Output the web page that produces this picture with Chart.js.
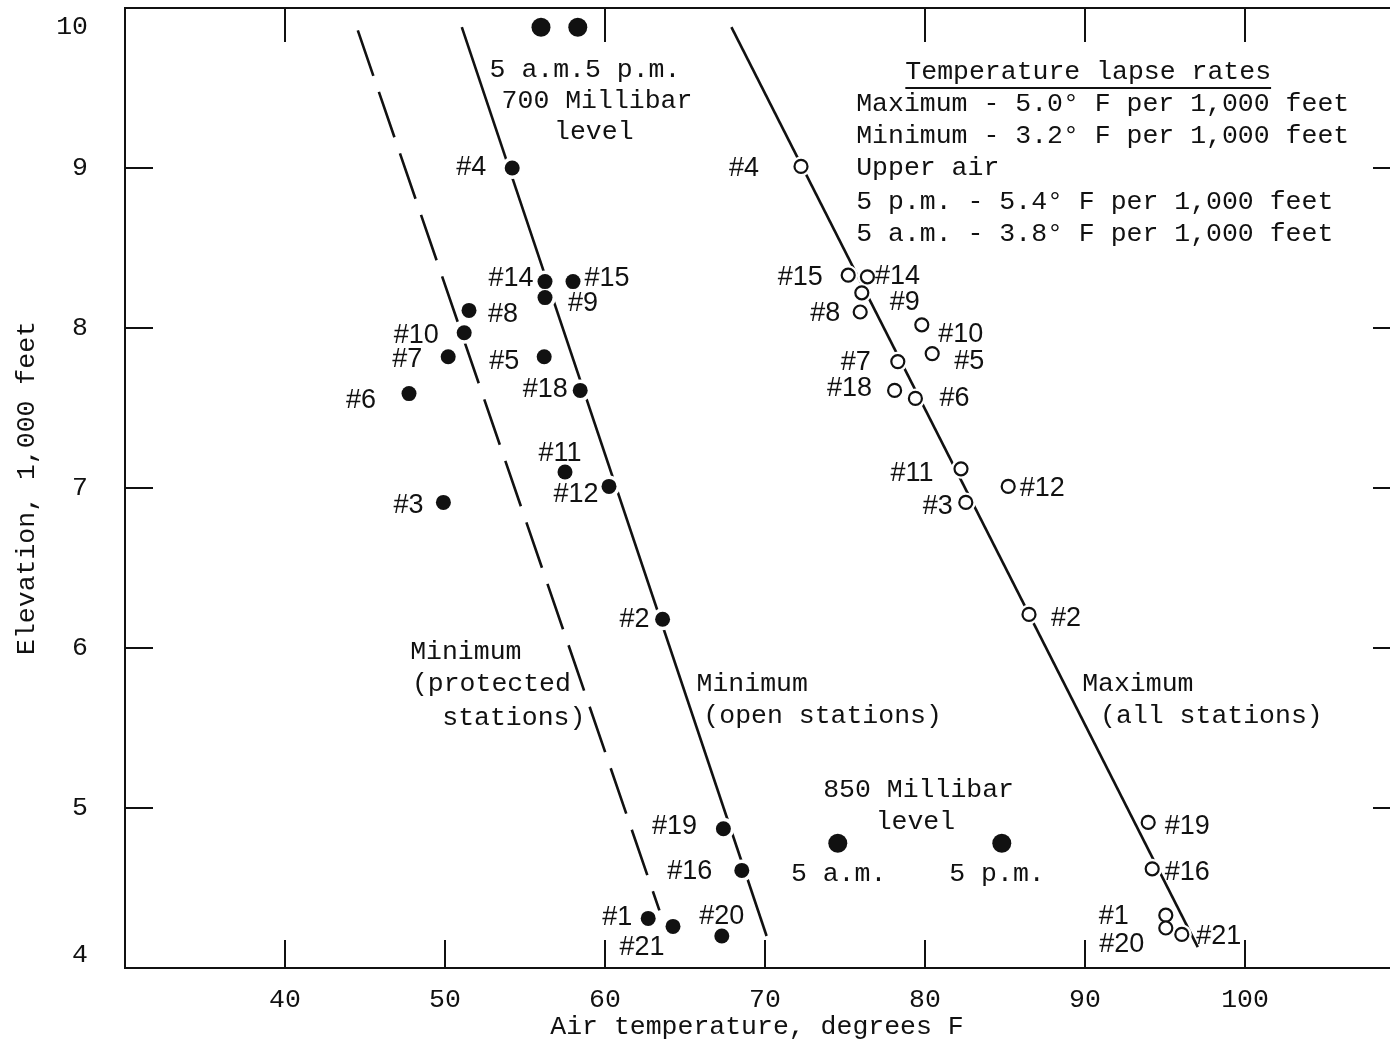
<!DOCTYPE html>
<html>
<head>
<meta charset="utf-8">
<script src="https://cdn.jsdelivr.net/npm/chart.js@4.4.1/dist/chart.umd.min.js"></script>
<style>
  html, body { margin: 0; padding: 0; background: #fff; }
</style>
</head>
<body>
<canvas id="chart" width="1390" height="1043"></canvas>
<script>
// station numbers (same order in both series)
const stationIds = [1, 2, 3, 4, 5, 6, 7, 8, 9, 10, 11, 12, 14, 15, 16, 18, 19, 20, 21];

// minimum temperatures, deg F, and elevation, 1,000 ft
const minTemps = [62.7, 63.6, 49.9, 54.2, 56.2, 47.75, 50.2, 51.5, 56.25, 51.2, 57.5, 60.25, 56.25, 58.0, 68.55, 58.45, 67.4, 67.3, 64.25];
const minElev  = [4.31, 6.18, 6.91, 9.0, 7.82, 7.59, 7.82, 8.11, 8.19, 7.97, 7.1, 7.01, 8.29, 8.29, 4.61, 7.61, 4.87, 4.2, 4.26];

// maximum temperatures
const maxTemps = [95.05, 86.5, 82.55, 72.25, 80.45, 79.4, 78.3, 75.95, 76.05, 79.8, 82.25, 85.2, 76.4, 75.2, 94.2, 78.1, 93.95, 95.05, 96.05];
const maxElev  = [4.33, 6.21, 6.91, 9.01, 7.84, 7.56, 7.79, 8.1, 8.22, 8.02, 7.12, 7.01, 8.32, 8.33, 4.62, 7.61, 4.91, 4.25, 4.21];

// upper air soundings
const upperLevels = ['700 mb', '700 mb', '850 mb', '850 mb'];
const upperTimes  = ['5 a.m.', '5 p.m.', '5 a.m.', '5 p.m.'];
const upperTemps  = [56.0, 58.3, 74.55, 84.8];
const upperElev   = [9.88, 9.88, 4.78, 4.78];

// fitted lapse-rate lines (end points)
const protectedTemps = [44.55, 63.4];
const protectedElev  = [9.86, 4.36];
const openTemps = [51.05, 70.1];
const openElev  = [9.88, 4.2];
const maxLineTemps = [67.9, 97.05];
const maxLineElev  = [9.88, 4.13];

// axes
const xTickValues = [40, 50, 60, 70, 80, 90, 100];
const topTickValues = [40, 60, 80, 90, 100];
const yTickValues = [4, 5, 6, 7, 8, 9, 10];
const sideTickValues = [5, 6, 7, 8, 9];

const lapseTitle = 'Temperature lapse rates';
const lapseLines = [
  'Maximum - 5.0\u00b0 F per 1,000 feet',
  'Minimum - 3.2\u00b0 F per 1,000 feet',
  'Upper air',
  '5 p.m. - 5.4\u00b0 F per 1,000 feet',
  '5 a.m. - 3.8\u00b0 F per 1,000 feet'
];

// ---- layout only below ----
// label offsets (px) from each station marker
const minLabelOffsets = {
  1: [-31, -1], 2: [-28, 0], 3: [-35, 3], 4: [-41, 0], 5: [-40, 5], 6: [-48, 7],
  7: [-41, 3], 8: [34, 4], 9: [38, 6], 10: [-48, 3], 11: [-5, -18], 12: [-33, 8],
  14: [-34, -3], 15: [34, -3], 16: [-52, 1], 18: [-35, -1], 19: [-49, -2], 20: [0, -19], 21: [-31, 21]
};
const maxLabelOffsets = {
  1: [-52, 1], 2: [37, 4], 3: [-28, 4], 4: [-57, 2], 5: [37, 8], 6: [39, 0],
  7: [-42, 1], 8: [-35, 2], 9: [43, 10], 10: [39, 10], 11: [-49, 5], 12: [34, 2],
  14: [30, 0], 15: [-48, 2], 16: [35, 4], 18: [-45, -2], 19: [39, 4], 20: [-44, 17], 21: [37, 2]
};
// free text placed in data units (deg F, 1,000 ft)
const notes = [
  { text: '5 a.m.5 p.m.', x: 58.75, y: 9.61 },
  { text: '700 Millibar', x: 59.5, y: 9.42 },
  { text: 'level', x: 59.3, y: 9.225 },
  { text: '850 Millibar', x: 79.6, y: 5.11 },
  { text: 'level', x: 79.4, y: 4.91 },
  { text: '5 a.m.', x: 74.6, y: 4.59 },
  { text: '5 p.m.', x: 84.5, y: 4.59 },
  { text: 'Minimum', x: 51.3, y: 5.975 },
  { text: '(protected', x: 52.9, y: 5.775 },
  { text: 'stations)', x: 54.3, y: 5.56 },
  { text: 'Minimum', x: 69.2, y: 5.775 },
  { text: '(open stations)', x: 73.6, y: 5.575 },
  { text: 'Maximum', x: 93.3, y: 5.775 },
  { text: '(all stations)', x: 97.9, y: 5.575 }
];
const lapseBox = { titleX: 90.2, titleY: 9.6, left: 75.7, rows: [9.4, 9.2, 9.0, 8.79, 8.59] };

const TYPE = '"Liberation Mono", "DejaVu Sans Mono", monospace';
const SANS = '"Liberation Sans", Arial, sans-serif';
const TYPE_SIZE = 26.5;

function pts(xs, ys) {
  return xs.map((v, i) => ({ x: v, y: ys[i] }));
}

const annotate = {
  id: 'annotate',
  afterDatasetsDraw(chart) {
    const { ctx, chartArea: a, scales: { x, y } } = chart;
    ctx.save();
    ctx.strokeStyle = '#111';
    ctx.fillStyle = '#111';
    ctx.lineWidth = 2;

    // top frame line and inward ticks
    ctx.beginPath();
    ctx.moveTo(a.left, a.top);
    ctx.lineTo(chart.width, a.top);
    xTickValues.forEach(v => {
      const px = x.getPixelForValue(v);
      ctx.moveTo(px, a.bottom);
      ctx.lineTo(px, a.bottom - 28);
    });
    topTickValues.forEach(v => {
      const px = x.getPixelForValue(v);
      ctx.moveTo(px, a.top);
      ctx.lineTo(px, a.top + 34);
    });
    sideTickValues.forEach(v => {
      const py = y.getPixelForValue(v);
      ctx.moveTo(a.left, py);
      ctx.lineTo(a.left + 28, py);
      ctx.moveTo(chart.width, py);
      ctx.lineTo(chart.width - 17, py);
    });
    ctx.stroke();

    // station labels
    ctx.font = '27px ' + SANS;
    ctx.textAlign = 'center';
    ctx.textBaseline = 'middle';
    chart.getDatasetMeta(0).data.forEach((p, i) => {
      const o = minLabelOffsets[stationIds[i]];
      ctx.fillText('#' + stationIds[i], p.x + o[0], p.y + o[1]);
    });
    chart.getDatasetMeta(1).data.forEach((p, i) => {
      const o = maxLabelOffsets[stationIds[i]];
      ctx.fillText('#' + stationIds[i], p.x + o[0], p.y + o[1]);
    });

    // notes
    ctx.font = TYPE_SIZE + 'px ' + TYPE;
    notes.forEach(n => {
      ctx.fillText(n.text, x.getPixelForValue(n.x), y.getPixelForValue(n.y));
    });

    // lapse rate box
    const tx = x.getPixelForValue(lapseBox.titleX);
    const ty = y.getPixelForValue(lapseBox.titleY);
    ctx.fillText(lapseTitle, tx, ty);
    const w = ctx.measureText(lapseTitle).width;
    ctx.beginPath();
    ctx.moveTo(tx - w / 2, ty + 16);
    ctx.lineTo(tx + w / 2, ty + 16);
    ctx.stroke();
    ctx.textAlign = 'left';
    lapseLines.forEach((t, i) => {
      ctx.fillText(t, x.getPixelForValue(lapseBox.left), y.getPixelForValue(lapseBox.rows[i]));
    });
    ctx.restore();
  }
};

new Chart(document.getElementById('chart'), {
  type: 'scatter',
  data: {
    datasets: [
      { label: 'Minimum', data: pts(minTemps, minElev), pointRadius: 7.5,
        pointBackgroundColor: '#111', pointBorderWidth: 0 },
      { label: 'Maximum', data: pts(maxTemps, maxElev), pointRadius: 6.5,
        pointBackgroundColor: '#fff', pointBorderColor: '#111', pointBorderWidth: 2.2 },
      { label: 'Upper air', data: pts(upperTemps, upperElev), pointRadius: 9.5,
        pointBackgroundColor: '#111', pointBorderWidth: 0 },
      // white halos that break the lines around the markers
      { label: 'halo min', data: pts(minTemps, minElev), pointRadius: 11,
        pointBackgroundColor: '#fff', pointBorderWidth: 0 },
      { label: 'halo max', data: pts(maxTemps, maxElev), pointRadius: 10,
        pointBackgroundColor: '#fff', pointBorderWidth: 0 },
      { label: 'Minimum (protected stations)', type: 'line', data: pts(protectedTemps, protectedElev),
        borderColor: '#111', borderWidth: 2.6, borderDash: [48, 17], pointRadius: 0, fill: false },
      { label: 'Minimum (open stations)', type: 'line', data: pts(openTemps, openElev),
        borderColor: '#111', borderWidth: 2.6, pointRadius: 0, fill: false },
      { label: 'Maximum (all stations)', type: 'line', data: pts(maxLineTemps, maxLineElev),
        borderColor: '#111', borderWidth: 2.6, pointRadius: 0, fill: false }
    ]
  },
  options: {
    responsive: false,
    animation: false,
    layout: { autoPadding: false, padding: { top: 8, right: 1, left: 0, bottom: 0 } },
    plugins: { legend: { display: false }, tooltip: { enabled: false } },
    scales: {
      x: {
        type: 'linear', min: 30, max: 109,
        afterBuildTicks: s => { s.ticks = xTickValues.map(v => ({ value: v })); },
        afterFit: s => { s.height = 75; s.paddingLeft = 0; s.paddingRight = 0; },
        grid: { display: false, drawTicks: false, tickLength: 0 },
        border: { display: true, color: '#111', width: 2 },
        ticks: { color: '#111', padding: 16, font: { family: TYPE, size: TYPE_SIZE }, maxRotation: 0 },
        title: { display: true, text: 'Air temperature, degrees F', color: '#111',
          font: { family: TYPE, size: TYPE_SIZE }, padding: { top: 0, bottom: 0 } }
      },
      y: {
        type: 'linear', min: 4, max: 10,
        afterBuildTicks: s => {
          // end labels sit slightly inside the frame on the original
          s.ticks = yTickValues.map(v => ({ value: v === 10 ? v - 0.12 : v === 4 ? v + 0.08 : v }));
        },
        afterFit: s => { s.width = 125; s.paddingTop = 0; s.paddingBottom = 0; },
        grid: { display: false, drawTicks: false, tickLength: 0 },
        border: { display: true, color: '#111', width: 2 },
        ticks: { color: '#111', padding: 37, font: { family: TYPE, size: TYPE_SIZE },
          callback: v => String(Math.round(v)) },
        title: { display: true, text: 'Elevation, 1,000 feet', color: '#111',
          font: { family: TYPE, size: TYPE_SIZE }, padding: { top: 11, bottom: 0 } }
      }
    }
  },
  plugins: [annotate]
});
</script>
</body>
</html>
